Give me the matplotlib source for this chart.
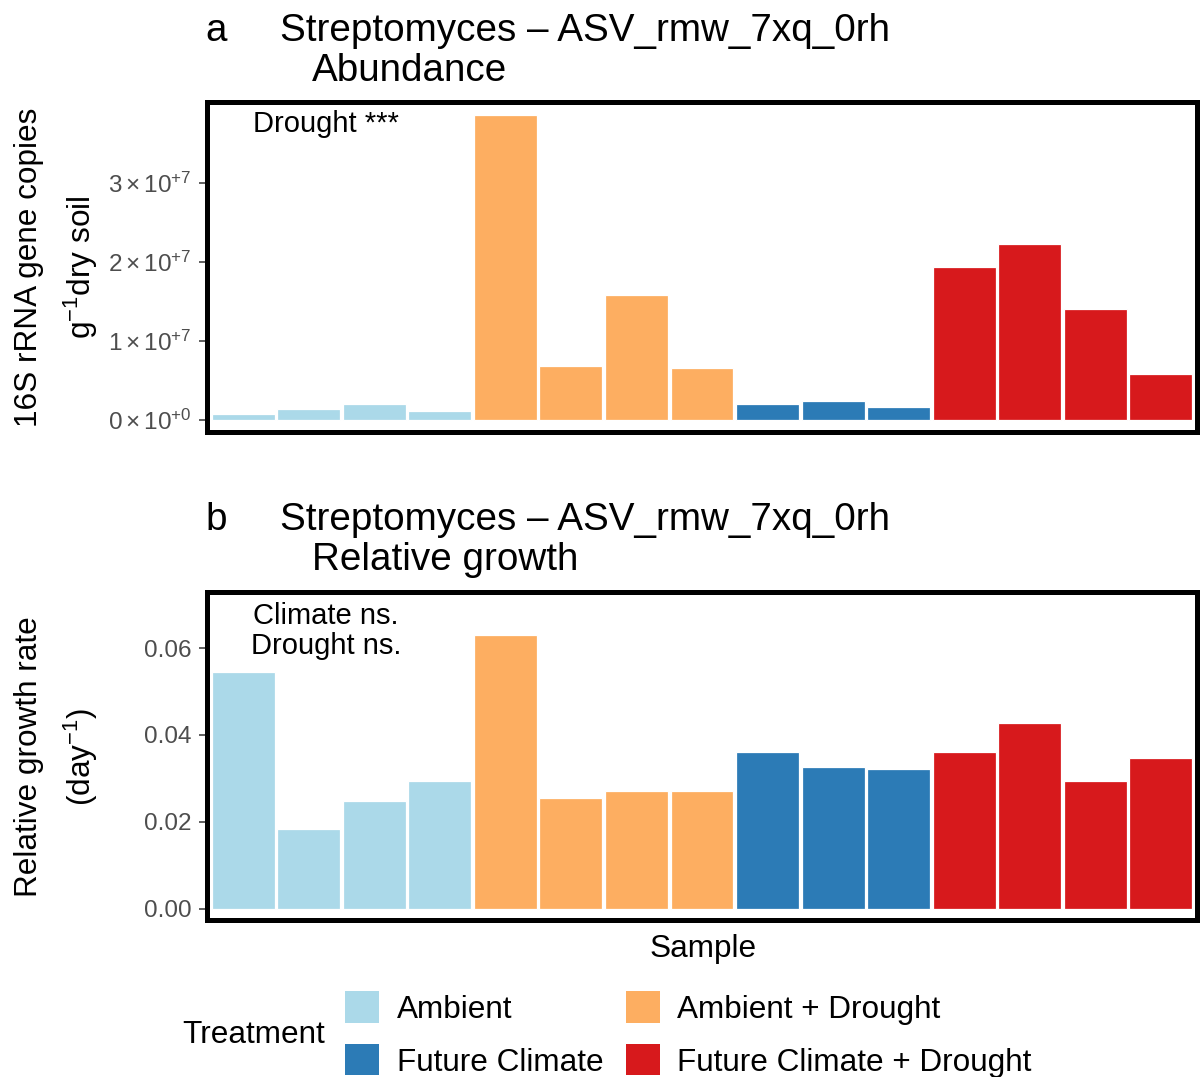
import matplotlib.pyplot as plt
from matplotlib.patches import Patch
from matplotlib.ticker import FixedLocator, FixedFormatter

plt.rcParams['font.family'] = ['Liberation Sans', 'DejaVu Sans']
plt.rcParams['mathtext.fontset'] = 'custom'
plt.rcParams['mathtext.rm'] = 'Liberation Sans'
plt.rcParams['mathtext.it'] = 'Liberation Sans'

# Samples in plotting order, grouped by treatment
treatments = ['Ambient'] * 4 + ['Ambient + Drought'] * 4 + \
             ['Future Climate'] * 3 + ['Future Climate + Drought'] * 4
abundance = [0.72e6, 1.42e6, 2.06e6, 1.13e6,
             3.86e7, 6.9e6, 1.58e7, 6.6e6,
             2.0e6, 2.4e6, 1.6e6,
             1.93e7, 2.23e7, 1.41e7, 5.8e6]
growth = [0.0545, 0.0184, 0.0247, 0.0293,
          0.0631, 0.0255, 0.0271, 0.0271,
          0.0361, 0.0326, 0.0322,
          0.0361, 0.0428, 0.0294, 0.0347]

legend_order = ['Ambient', 'Future Climate', 'Ambient + Drought', 'Future Climate + Drought']
palette = {'Ambient': '#ABD9E9', 'Ambient + Drought': '#FDAE61',
           'Future Climate': '#2C7BB6', 'Future Climate + Drought': '#D7191C'}

abund_ticks = [0, 1e7, 2e7, 3e7]
abund_labels = [r'$0\times10^{+0}$', r'$1\times10^{+7}$', r'$2\times10^{+7}$', r'$3\times10^{+7}$']
growth_ticks = [0.0, 0.02, 0.04, 0.06]
growth_labels = ['0.00', '0.02', '0.04', '0.06']

W, H = 1201, 1077
fig = plt.figure(figsize=(W / 100, H / 100), dpi=100)

def fx(px):
    return px / W

def fy(py):
    return 1 - py / H

x = list(range(1, len(treatments) + 1))
colors = [palette[t] for t in treatments]

ax1 = fig.add_axes([fx(207), fy(432), fx(1197) - fx(207), fy(102) - fy(432)])
ax2 = fig.add_axes([fx(207), fy(920), fx(1197) - fx(207), fy(592) - fy(920)])

for ax, vals in [(ax1, abundance), (ax2, growth)]:
    ax.bar(x, vals, width=0.96, color=colors, edgecolor='white', linewidth=0.9)
    ax.set_xlim(0.45, len(x) + 0.55)
    ax.set_xticks([])
    for s in ax.spines.values():
        s.set_linewidth(3.6)
        s.set_color('black')
    ax.tick_params(axis='y', direction='out', length=6, width=1.1, color='#333333',
                   labelsize=17.5, labelcolor='#4D4D4D', pad=5)

ax1.set_ylim(-0.15e7, 4.02e7)
ax1.yaxis.set_major_locator(FixedLocator(abund_ticks))
ax1.yaxis.set_major_formatter(FixedFormatter(abund_labels))

ax2.set_ylim(-0.0026, 0.0729)
ax2.yaxis.set_major_locator(FixedLocator(growth_ticks))
ax2.yaxis.set_major_formatter(FixedFormatter(growth_labels))

# significance annotations
ax1.text(0.12, 0.934, 'Drought ***', transform=ax1.transAxes, ha='center', va='center',
         fontsize=21)
ax2.text(0.12, 0.881, 'Climate ns.\nDrought ns.', transform=ax2.transAxes, ha='center',
         va='center', fontsize=21, linespacing=1.05)

# panel titles
title_size = 27.8
fig.text(fx(205), fy(41), 'a', fontsize=title_size, va='baseline')
fig.text(fx(280), fy(41), 'Streptomyces – ASV_rmw_7xq_0rh', fontsize=title_size, va='baseline')
fig.text(fx(312), fy(81), 'Abundance', fontsize=title_size, va='baseline')
fig.text(fx(205), fy(530), 'b', fontsize=title_size, va='baseline')
fig.text(fx(280), fy(530), 'Streptomyces – ASV_rmw_7xq_0rh', fontsize=title_size, va='baseline')
fig.text(fx(312), fy(570), 'Relative growth', fontsize=title_size, va='baseline')

# axis titles
fig.text(fx(29), fy(267), '16S rRNA gene copies', rotation=90, fontsize=22.7,
         ha='center', va='center')
fig.text(fx(81), fy(267), r'g$^{-1}$dry soil', rotation=90, fontsize=22.7,
         ha='center', va='center')
fig.text(fx(29), fy(757), 'Relative growth rate', rotation=90, fontsize=22.7,
         ha='center', va='center')
fig.text(fx(81), fy(757), r'(day$^{-1}$)', rotation=90, fontsize=22.7,
         ha='center', va='center')
fig.text(fx(703), fy(957), 'Sample', fontsize=22.7, ha='center', va='baseline')

# legend
handles = [Patch(facecolor=palette[t], edgecolor='none', label=t) for t in legend_order]
fig.text(fx(182), fy(1035), 'Treatment', fontsize=22.7, va='center')
fig.legend(handles=handles, ncol=2, loc='upper left', bbox_to_anchor=(fx(339), fy(985)),
           frameon=False, fontsize=22.7, handlelength=1.08, handleheight=1.15,
           handletextpad=0.55, columnspacing=0.72, labelspacing=0.62, borderpad=0.2,
           borderaxespad=0)

fig.savefig('out.png', dpi=100)
